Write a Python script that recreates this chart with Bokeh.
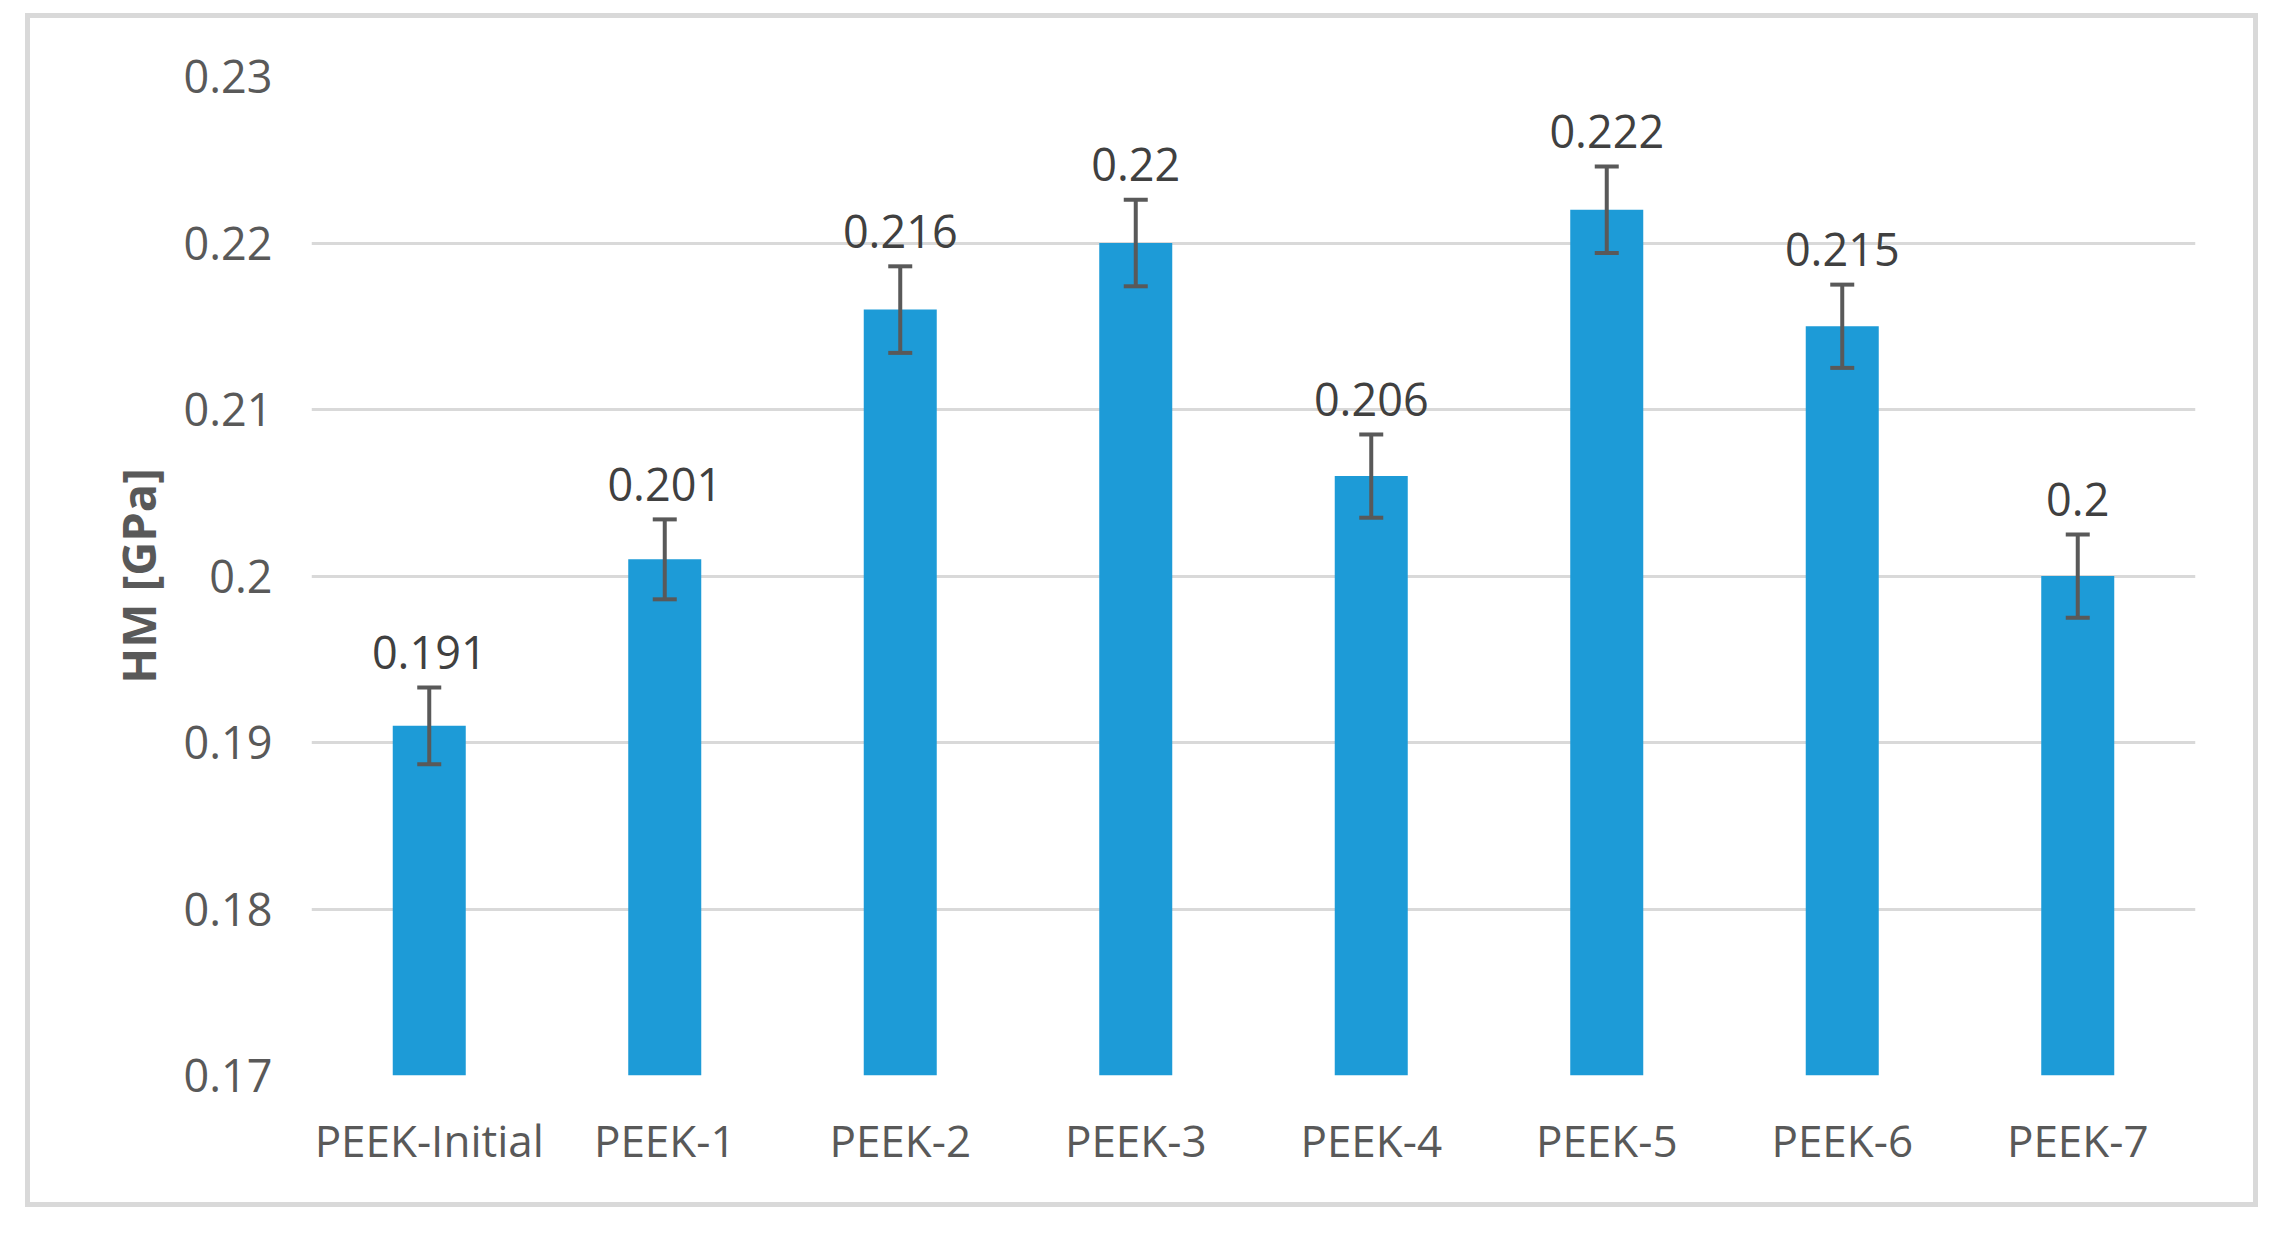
from bokeh.plotting import figure
from bokeh.models import ColumnDataSource, FactorRange, FixedTicker, Whisker, TeeHead
from bokeh.core.properties import value
from bokeh.embed import file_html
from bokeh.resources import INLINE

categories = ["PEEK-Initial", "PEEK-1", "PEEK-2", "PEEK-3", "PEEK-4", "PEEK-5", "PEEK-6", "PEEK-7"]
hm_values = [0.191, 0.201, 0.216, 0.220, 0.206, 0.222, 0.215, 0.200]
hm_errors = [0.0023, 0.0024, 0.0026, 0.0026, 0.0025, 0.0026, 0.0025, 0.0025]
value_labels = ["0.191", "0.201", "0.216", "0.22", "0.206", "0.222", "0.215", "0.2"]
y_ticks = [0.17, 0.18, 0.19, 0.20, 0.21, 0.22, 0.23]
y_tick_labels = ["0.17", "0.18", "0.19", "0.2", "0.21", "0.22", "0.23"]

FONT = "Open Sans"
BAR = "#1d9bd7"
GREY = "#595959"

src = ColumnDataSource(dict(
    cat=categories,
    val=hm_values,
    upper=[v + e for v, e in zip(hm_values, hm_errors)],
    lower=[v - e for v, e in zip(hm_values, hm_errors)],
    lab=value_labels,
))

p = figure(
    x_range=FactorRange(*categories),
    y_range=(0.17, 0.23),
    width=2233, height=1194,
    output_backend="svg", toolbar_location=None,
    min_border_left=281, min_border_right=68,
    min_border_top=58, min_border_bottom=137,
    margin=(13, 0, 0, 25),
    styles={"border": "5px solid #d9d9d9"},
)
p.outline_line_color = None
p.background_fill_color = "white"
p.border_fill_color = "white"

p.vbar(x="cat", top="val", bottom=0.17, width=0.31, source=src,
       fill_color=BAR, line_color=None)

wh = Whisker(base="cat", upper="upper", lower="lower", source=src,
             line_color=GREY, line_width=4, level="overlay",
             upper_head=TeeHead(size=24, line_color=GREY, line_width=4),
             lower_head=TeeHead(size=24, line_color=GREY, line_width=4))
p.add_layout(wh)

p.text(x="cat", y="upper", text="lab", source=src, y_offset=-35,
       text_align="center", text_baseline="alphabetic",
       text_font=value(FONT), text_font_size="45px", text_color="#404040")

p.xgrid.grid_line_color = None
p.ygrid.grid_line_color = "#d9d9d9"
p.ygrid.grid_line_width = 3

p.yaxis.ticker = FixedTicker(ticks=y_ticks)
p.yaxis.major_label_overrides = {t: l for t, l in zip(y_ticks, y_tick_labels)}
for ax in (p.xaxis, p.yaxis):
    ax.axis_line_color = None
    ax.major_tick_line_color = None
    ax.minor_tick_line_color = None
    ax.major_label_text_font = FONT
    ax.major_label_text_color = GREY

p.yaxis.major_label_text_font_size = "45px"
p.xaxis.major_label_text_font_size = "44px"
p.yaxis.major_label_standoff = 33
p.xaxis.major_label_standoff = 28

p.yaxis.axis_label = "HM [GPa]"
p.yaxis.axis_label_text_font = FONT
p.yaxis.axis_label_text_font_size = "47px"
p.yaxis.axis_label_text_font_style = "bold"
p.yaxis.axis_label_text_color = GREY
p.yaxis.axis_label_standoff = 10

open("out.html", "w").write(file_html(p, INLINE))
